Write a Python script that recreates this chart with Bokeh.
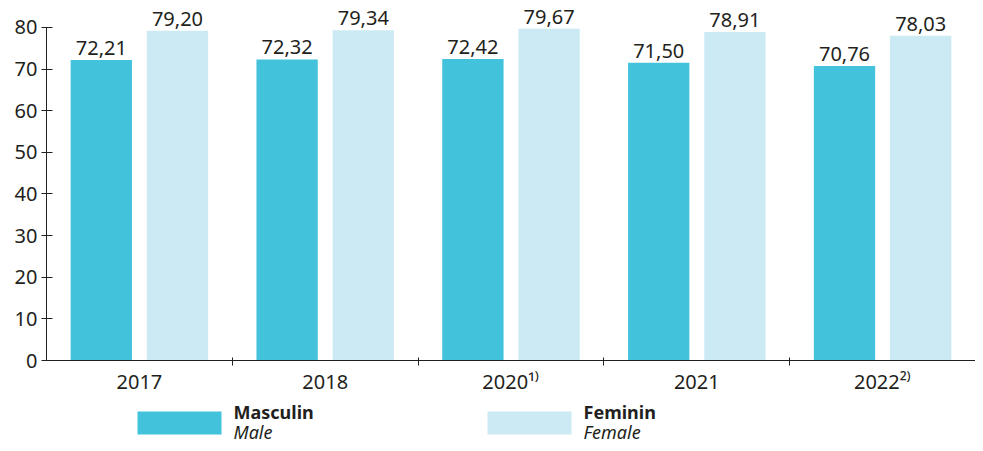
from bokeh.plotting import figure
from bokeh.models import Range1d, FixedTicker, ColumnDataSource, LabelSet
from bokeh.core.properties import value
from bokeh.layouts import column
from bokeh.embed import file_html
from bokeh.resources import INLINE

years = ["2017", "2018", "2020\u00b9\u207e", "2021", "2022\u00b2\u207e"]
male = [72.21, 72.32, 72.42, 71.50, 70.76]
female = [79.20, 79.34, 79.67, 78.91, 78.03]
y_ticks = [0, 10, 20, 30, 40, 50, 60, 70, 80]

MALE_C = "#42C3DB"
FEMALE_C = "#CCEAF3"
TXT = "#231F20"
FONT = "Noto Sans"

idx = list(range(len(years)))
centers = [i + 0.5 for i in idx]
off = 0.205
bw = 0.33

fmt = lambda v: f"{v:.2f}".replace(".", ",")
src_m = ColumnDataSource(dict(x=[c - off for c in centers], y=male, lab=[fmt(v) for v in male]))
src_f = ColumnDataSource(dict(x=[c + off for c in centers], y=female, lab=[fmt(v) for v in female]))

W = 975
p = figure(width=W, height=398, output_backend="svg", toolbar_location=None,
           x_range=Range1d(0, len(years)), y_range=Range1d(0, 86),
           min_border_left=46, min_border_right=0, min_border_top=2, min_border_bottom=38)
p.outline_line_color = None
p.xgrid.visible = False
p.ygrid.visible = False

p.vbar(x="x", top="y", width=bw, source=src_m, color=MALE_C, line_color=None)
p.vbar(x="x", top="y", width=bw, source=src_f, color=FEMALE_C, line_color=None)

for s in (src_m, src_f):
    p.add_layout(LabelSet(x="x", y="y", text="lab", source=s, y_offset=5,
                          text_align="center", text_baseline="alphabetic",
                          text_font=value(FONT), text_font_size=value("20px"),
                          text_color=TXT))

# y axis
ya = p.yaxis[0]
ya.ticker = FixedTicker(ticks=y_ticks)
ya.bounds = (0, 80)
ya.major_tick_in = 6
ya.major_tick_out = 5
ya.minor_tick_line_color = None
ya.major_label_standoff = 4
ya.major_label_text_font = FONT
ya.major_label_text_font_size = "20px"
ya.major_label_text_color = TXT
ya.axis_line_color = TXT
ya.major_tick_line_color = TXT

# x axis
xa = p.xaxis[0]
xa.ticker = FixedTicker(ticks=centers, minor_ticks=[i for i in idx[1:]])
xa.major_label_overrides = {c: y for c, y in zip(centers, years)}
xa.major_tick_line_color = None
xa.major_tick_in = 0
xa.major_tick_out = 0
xa.minor_tick_in = 3
xa.minor_tick_out = 5
xa.minor_tick_line_color = TXT
xa.axis_line_color = TXT
xa.major_label_standoff = 2
xa.major_label_text_font = FONT
xa.major_label_text_font_size = "20px"
xa.major_label_text_color = TXT

# legend figure (data units = page pixels horizontally, pixels from top vertically)
lh = 45
lg = figure(width=W, height=lh, output_backend="svg", toolbar_location=None,
            x_range=Range1d(46, W), y_range=Range1d(lh, 0),
            min_border_left=46, min_border_right=0, min_border_top=0, min_border_bottom=0)
lg.axis.visible = False
lg.grid.visible = False
lg.outline_line_color = None

leg_x = [137, 487]
leg_col = [MALE_C, FEMALE_C]
leg_ro = ["Masculin", "Feminin"]
leg_en = ["Male", "Female"]
lsrc = ColumnDataSource(dict(x0=leg_x, x1=[x + 84 for x in leg_x], col=leg_col,
                             tx=[x + 96 for x in leg_x], ro=leg_ro, en=leg_en,
                             y1=[20] * 2, y2=[40] * 2))
lg.quad(left="x0", right="x1", top=13, bottom=36, color="col", line_color=None, source=lsrc)
lg.add_layout(LabelSet(x="tx", y="y1", text="ro", source=lsrc, text_font=value(FONT),
                       text_font_style="bold", text_font_size=value("18px"),
                       text_color=TXT, text_baseline="alphabetic"))
lg.add_layout(LabelSet(x="tx", y="y2", text="en", source=lsrc, text_font=value(FONT),
                       text_font_style="italic", text_font_size=value("18px"),
                       text_color=TXT, text_baseline="alphabetic"))

layout = column(p, lg, spacing=0)
open("out.html", "w").write(file_html(layout, INLINE))
